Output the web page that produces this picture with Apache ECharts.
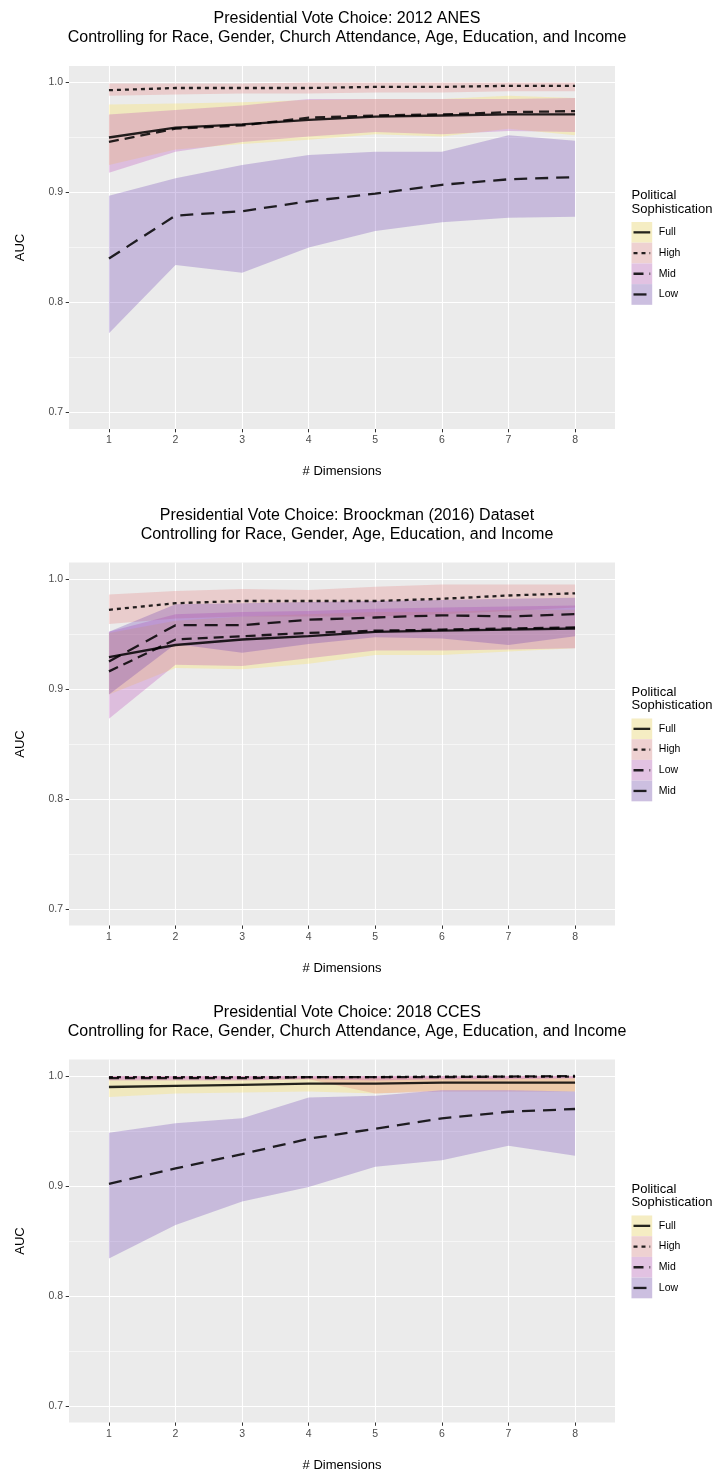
<!DOCTYPE html>
<html lang="en">
<head>
<meta charset="utf-8">
<script src="https://cdn.jsdelivr.net/npm/echarts@6/dist/echarts.min.js"></script>
<style>
  html, body { margin: 0; padding: 0; background: #ffffff; }
  #chart { width: 720px; height: 1475px; }
</style>
</head>
<body>
<div id="chart"></div>
<script type="text/javascript">
// x categories and y ticks
var dims = [1, 2, 3, 4, 5, 6, 7, 8];
var yMajor = [0.7, 0.8, 0.9, 1.0];
var yMinor = [0.75, 0.85, 0.95];

// Panel 1: 2012 ANES
var anesFull   = [0.950, 0.959, 0.962, 0.966, 0.969, 0.970, 0.971, 0.971];
var anesFullLo = [0.925, 0.939, 0.944, 0.948, 0.953, 0.951, 0.958, 0.952];
var anesFullHi = [0.980, 0.981, 0.982, 0.984, 0.985, 0.985, 0.988, 0.986];
var anesHigh   = [0.993, 0.995, 0.995, 0.995, 0.996, 0.996, 0.997, 0.997];
var anesHighLo = [0.988, 0.989, 0.990, 0.990, 0.991, 0.991, 0.992, 0.992];
var anesHighHi = [0.999, 0.999, 0.999, 1.000, 1.000, 1.000, 1.000, 1.000];
var anesMid    = [0.946, 0.958, 0.961, 0.968, 0.970, 0.971, 0.973, 0.974];
var anesMidLo  = [0.918, 0.937, 0.946, 0.951, 0.955, 0.953, 0.956, 0.955];
var anesMidHi  = [0.971, 0.975, 0.979, 0.985, 0.985, 0.985, 0.985, 0.986];
var anesLow    = [0.840, 0.879, 0.883, 0.892, 0.899, 0.907, 0.912, 0.914];
var anesLowLo  = [0.772, 0.834, 0.827, 0.850, 0.865, 0.873, 0.877, 0.878];
var anesLowHi  = [0.897, 0.913, 0.925, 0.934, 0.937, 0.937, 0.952, 0.947];

// Panel 2: Broockman (2016)
var brFull   = [0.929, 0.940, 0.945, 0.948, 0.952, 0.953, 0.954, 0.955];
var brFullLo = [0.895, 0.919, 0.918, 0.923, 0.931, 0.931, 0.934, 0.937];
var brFullHi = [0.951, 0.962, 0.966, 0.968, 0.970, 0.970, 0.972, 0.972];
var brHigh   = [0.972, 0.978, 0.980, 0.980, 0.980, 0.982, 0.985, 0.987];
var brHighLo = [0.959, 0.964, 0.966, 0.966, 0.966, 0.968, 0.971, 0.974];
var brHighHi = [0.986, 0.989, 0.991, 0.990, 0.993, 0.995, 0.995, 0.995];
var brLow    = [0.916, 0.945, 0.948, 0.951, 0.953, 0.954, 0.955, 0.956];
var brLowLo  = [0.873, 0.922, 0.921, 0.928, 0.935, 0.935, 0.936, 0.937];
var brLowHi  = [0.952, 0.968, 0.970, 0.971, 0.973, 0.974, 0.975, 0.976];
var brMid    = [0.925, 0.958, 0.958, 0.963, 0.965, 0.967, 0.966, 0.968];
var brMidLo  = [0.895, 0.941, 0.933, 0.941, 0.947, 0.946, 0.940, 0.948];
var brMidHi  = [0.952, 0.977, 0.978, 0.979, 0.980, 0.981, 0.982, 0.983];

// Panel 3: 2018 CCES
var ccFull   = [0.990, 0.991, 0.992, 0.993, 0.993, 0.994, 0.994, 0.994];
var ccFullLo = [0.981, 0.984, 0.985, 0.986, 0.984, 0.987, 0.987, 0.986];
var ccFullHi = [0.997, 0.997, 0.997, 0.998, 0.998, 0.998, 0.998, 0.998];
var ccHigh   = [0.999, 0.999, 0.999, 0.999, 0.999, 0.9995, 0.9995, 0.9995];
var ccHighLo = [0.997, 0.997, 0.997, 0.997, 0.984, 0.986, 0.986, 0.986];
var ccHighHi = [1.000, 1.000, 1.000, 1.000, 1.000, 1.000, 1.000, 1.000];
var ccMid    = [0.998, 0.998, 0.998, 0.999, 0.999, 0.999, 0.9995, 1.000];
var ccMidLo  = [0.996, 0.996, 0.996, 0.997, 0.996, 0.997, 0.997, 0.998];
var ccMidHi  = [1.000, 1.000, 1.000, 1.000, 1.000, 1.000, 1.000, 1.000];
var ccLow    = [0.902, 0.916, 0.929, 0.943, 0.952, 0.9615, 0.9675, 0.970];
var ccLowLo  = [0.834, 0.8645, 0.886, 0.899, 0.9175, 0.9235, 0.9365, 0.9275];
var ccLowHi  = [0.9485, 0.957, 0.9615, 0.9805, 0.982, 0.987, 0.987, 0.986];

// look of each group
var fills = {
	full: 'rgba(255,223,63,0.26)',
	high: 'rgba(227,115,115,0.26)',
	mid: 'rgba(183,67,183,0.27)',
	low: 'rgba(95,47,175,0.26)'
};
var dashes = { full: 'solid', high: [4, 4], mid: [10, 6], low: [13, 8] };
var lineColor = 'rgba(0,0,0,0.85)';
var fontFamily = 'Liberation Sans, Arial, sans-serif';

var panels = [
	{
		title: 'Presidential Vote Choice: 2012 ANES\nControlling for Race, Gender, Church Attendance, Age, Education, and Income',
		off: 0,
		groups: [
			{ name: 'Full', style: 'full', mean: anesFull, lo: anesFullLo, hi: anesFullHi },
			{ name: 'High', style: 'high', mean: anesHigh, lo: anesHighLo, hi: anesHighHi },
			{ name: 'Mid', style: 'mid', mean: anesMid, lo: anesMidLo, hi: anesMidHi },
			{ name: 'Low', style: 'low', mean: anesLow, lo: anesLowLo, hi: anesLowHi }
		]
	},
	{
		title: 'Presidential Vote Choice: Broockman (2016) Dataset\nControlling for Race, Gender, Age, Education, and Income',
		off: 496.5,
		groups: [
			{ name: 'Full', style: 'full', mean: brFull, lo: brFullLo, hi: brFullHi },
			{ name: 'High', style: 'high', mean: brHigh, lo: brHighLo, hi: brHighHi },
			{ name: 'Low', style: 'mid', mean: brLow, lo: brLowLo, hi: brLowHi },
			{ name: 'Mid', style: 'low', mean: brMid, lo: brMidLo, hi: brMidHi }
		]
	},
	{
		title: 'Presidential Vote Choice: 2018 CCES\nControlling for Race, Gender, Church Attendance, Age, Education, and Income',
		off: 993.5,
		groups: [
			{ name: 'Full', style: 'full', mean: ccFull, lo: ccFullLo, hi: ccFullHi },
			{ name: 'High', style: 'high', mean: ccHigh, lo: ccHighLo, hi: ccHighHi },
			{ name: 'Mid', style: 'mid', mean: ccMid, lo: ccMidLo, hi: ccMidHi },
			{ name: 'Low', style: 'low', mean: ccLow, lo: ccLowLo, hi: ccLowHi }
		]
	}
];

// ribbon: one polygon through all rows [x, lo, hi] of the series
function renderRibbon(params, api) {
	if (params.dataIndexInside !== 0) return null;
	var n = params.dataInsideLength;
	var pts = [];
	for (var j = 0; j < n; j++) pts.push(api.coord([api.value(0, j), api.value(2, j)]));
	for (var j2 = n - 1; j2 >= 0; j2--) pts.push(api.coord([api.value(0, j2), api.value(1, j2)]));
	return {
		type: 'polygon',
		shape: { points: pts },
		style: { fill: api.visual('color') }
	};
}

var chart = echarts.init(document.getElementById('chart'), null, { renderer: 'canvas' });

var option = {
	animation: false,
	backgroundColor: '#ffffff',
	textStyle: { fontFamily: fontFamily },
	title: [],
	grid: [],
	xAxis: [],
	yAxis: [],
	series: [],
	graphic: []
};

panels.forEach(function (p, i) {
	option.title.push({
		text: p.title,
		left: 342,
		top: 4.5 + p.off,
		textAlign: 'center',
		textStyle: { fontSize: 16, fontWeight: 'normal', color: '#000', lineHeight: 19 }
	});
	option.grid.push({
		left: 69, width: 546, top: 66 + p.off, height: 363,
		show: true, backgroundColor: '#EBEBEB', borderWidth: 0
	});
	option.xAxis.push({
		gridIndex: i, type: 'value', min: 0.4, max: 8.6,
		axisLine: { show: false },
		axisTick: { show: true, customValues: dims, length: 3.3, lineStyle: { color: '#333333', width: 1 } },
		axisLabel: { customValues: dims, color: '#4D4D4D', fontSize: 10.5, margin: 6 },
		splitLine: { show: true, lineStyle: { color: '#ffffff', width: 1.1 } },
		name: '# Dimensions', nameLocation: 'middle', nameGap: 36,
		nameTextStyle: { color: '#000', fontSize: 13 }
	});
	// major y axis
	option.yAxis.push({
		gridIndex: i, type: 'value', min: 0.685, max: 1.015,
		axisLine: { show: false },
		axisTick: { show: true, customValues: yMajor, length: 3.3, lineStyle: { color: '#333333', width: 1 } },
		axisLabel: {
			customValues: yMajor, color: '#4D4D4D', fontSize: 10.5, margin: 6,
			formatter: function (v) { return v.toFixed(1); }
		},
		splitLine: { show: true, lineStyle: { color: '#ffffff', width: 1.1 } },
		name: 'AUC', nameLocation: 'middle', nameGap: 42,
		nameTextStyle: { color: '#000', fontSize: 13 }
	});
	// minor grid lines
	option.yAxis.push({
		gridIndex: i, type: 'value', min: 0.685, max: 1.015, position: 'left',
		axisLine: { show: false },
		axisTick: { show: false, customValues: yMinor },
		axisLabel: { show: false, customValues: yMinor },
		splitLine: { show: true, lineStyle: { color: '#ffffff', width: 0.55 } }
	});

	// ribbons first
	p.groups.forEach(function (g) {
		option.series.push({
			type: 'custom', xAxisIndex: i, yAxisIndex: 2 * i, silent: true, z: 2,
			itemStyle: { color: fills[g.style] },
			encode: { x: 0, y: [1, 2] },
			data: dims.map(function (d, k) { return [d, g.lo[k], g.hi[k]]; }),
			renderItem: renderRibbon
		});
	});
	// mean lines on top
	p.groups.forEach(function (g) {
		option.series.push({
			name: g.name, type: 'line', xAxisIndex: i, yAxisIndex: 2 * i, z: 3,
			data: dims.map(function (d, k) { return [d, g.mean[k]]; }),
			symbol: 'none', silent: true,
			lineStyle: { color: lineColor, width: 2.3, type: dashes[g.style], cap: 'butt' }
		});
	});

	// legend drawn by hand (ggplot style keys)
	var keySize = 20.7;
	var items = [{
		type: 'text', left: 0, top: 0,
		style: { text: 'Political\nSophistication', fill: '#000', fontSize: 13, lineHeight: 13.5, fontFamily: fontFamily }
	}];
	p.groups.forEach(function (g, k) {
		var y0 = 33 + k * keySize;
		items.push({ type: 'rect', shape: { x: 0, y: y0, width: keySize, height: keySize }, style: { fill: '#F2F2F2' } });
		items.push({ type: 'rect', shape: { x: 0, y: y0, width: keySize, height: keySize }, style: { fill: fills[g.style] } });
		items.push({
			type: 'line', shape: { x1: 2, y1: y0 + keySize / 2, x2: keySize - 2, y2: y0 + keySize / 2 },
			style: { stroke: lineColor, lineWidth: 2.3, lineDash: dashes[g.style] === 'solid' ? null : dashes[g.style], lineCap: 'butt' }
		});
		items.push({
			type: 'text', x: keySize + 6.6, y: y0 + keySize / 2,
			style: { text: g.name, fill: '#000', fontSize: 10.5, verticalAlign: 'middle', fontFamily: fontFamily }
		});
	});
	option.graphic.push({
		type: 'group', left: 631, top: 189 + p.off, children: items
	});
});

chart.setOption(option);
</script>
</body>
</html>
